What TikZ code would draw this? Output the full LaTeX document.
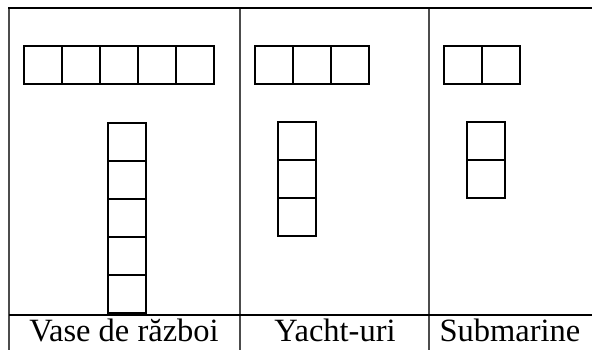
\documentclass[tikz,border=0pt]{standalone}
\usepackage{fontspec}
\setmainfont{Liberation Serif}
\begin{document}
\begin{tikzpicture}[x=1pt,y=1pt,
  cell/.style={draw=black,line width=2pt,minimum width=38pt,minimum height=38pt,inner sep=0pt,outer sep=0pt},
  grid/.style={draw=black!70,line width=1.6pt},
  topline/.style={draw=black,line width=2pt},
  label/.style={font=\fontsize{32.5}{36}\selectfont,anchor=base,inner sep=0pt}]
\useasboundingbox (0,0) rectangle (592,350);
% table lines
\coordinate (tl) at (9,342);
\coordinate (tr) at (592,342);
\coordinate (bl) at (9,0);
\coordinate (d1t) at (240,342);
\coordinate (d1b) at (240,0);
\coordinate (d2t) at (429,342);
\coordinate (d2b) at (429,0);
\coordinate (hl) at (9,35);
\coordinate (hr) at (592,35);
\draw[grid] (tl) -- (bl);
\draw[grid] (d1t) -- (d1b);
\draw[grid] (d2t) -- (d2b);
\draw[topline] (8,342) -- (tr);
\draw[topline] (hl) -- (hr);
% column 1 horizontal
\foreach \i/\x in {1/43,2/81,3/119,4/157,5/195}{
  \node[cell] (ah\i) at (\x,285) {};
}
% column 1 vertical
\foreach \i/\y in {1/208,2/170,3/132,4/94,5/56}{
  \node[cell] (av\i) at (127,\y) {};
}
% column 2 horizontal
\foreach \i/\x in {1/274,2/312,3/350}{
  \node[cell] (bh\i) at (\x,285) {};
}
% column 2 vertical
\foreach \i/\y in {1/209,2/171,3/133}{
  \node[cell] (bv\i) at (297,\y) {};
}
% column 3 horizontal
\foreach \i/\x in {1/463,2/501}{
  \node[cell] (ch\i) at (\x,285) {};
}
% column 3 vertical
\foreach \i/\y in {1/209,2/171}{
  \node[cell] (cv\i) at (486,\y) {};
}
% labels
\node[label] (l1) at (124,8) {Vase de război};
\node[label] (l2) at (335,8) {Yacht-uri};
\node[label] (l3) at (510,8) {Submarine};
\end{tikzpicture}
\end{document}
